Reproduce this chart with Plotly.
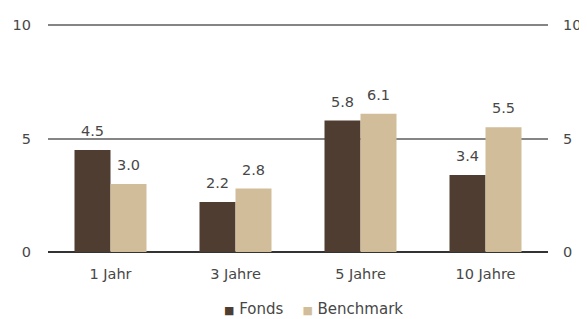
import plotly.graph_objects as go

categories = ["1 Jahr", "3 Jahre", "5 Jahre", "10 Jahre"]
fonds = [4.5, 2.2, 5.8, 3.4]
benchmark = [3.0, 2.8, 6.1, 5.5]
series_names = ["Fonds", "Benchmark"]
tick_vals = [0, 5, 10]

c_fonds = "#4E3D30"
c_bench = "#D1BD99"
txt = "#474747"
fam = "DejaVu Sans"
font = dict(family=fam, size=14.5, color=txt)

fig = go.Figure()
fig.add_trace(go.Bar(x=categories, y=fonds, name=series_names[0], showlegend=False,
                     marker=dict(color=c_fonds, line=dict(width=0))))
fig.add_trace(go.Bar(x=categories, y=benchmark, name=series_names[1], showlegend=False,
                     marker=dict(color=c_bench, line=dict(width=0))))
# invisible trace for the right axis
fig.add_trace(go.Scatter(x=categories, y=fonds, yaxis="y2", mode="markers",
                         marker=dict(opacity=0), showlegend=False, hoverinfo="skip"))

for vals, shift in ((fonds, -18), (benchmark, 18)):
    for c, v in zip(categories, vals):
        fig.add_annotation(x=c, y=v, text=f"{v:.1f}", showarrow=False, xshift=shift,
                           yanchor="bottom", yshift=9, font=dict(family=fam, size=14.5, color=txt))

# legend row (colored square + series name)
legend_text = "&nbsp;&nbsp;&nbsp;&nbsp;".join(
    f"<span style='color:{col}; font-size:11px'>■</span> {name}"
    for col, name in zip((c_fonds, c_bench), series_names))
fig.add_annotation(xref="paper", yref="paper", x=0.53, y=-0.25, xanchor="center", yanchor="middle",
                   text=legend_text, showarrow=False, font=dict(family=fam, size=15, color=txt))

yr = [0, 10.1]
fig.update_layout(
    width=579, height=311,
    margin=dict(l=40, r=39, t=15, b=67, autoexpand=False),
    plot_bgcolor="white", paper_bgcolor="white",
    barmode="group", bargap=0.424, bargroupgap=0,
    font=font,
    xaxis=dict(showgrid=False, ticks="", showline=False, zeroline=False, color=txt,
               tickfont=font, ticklabelstandoff=11, automargin=False),
    yaxis=dict(range=yr, tickvals=tick_vals, showgrid=True, gridcolor="#858585", gridwidth=1.5,
               zeroline=True, zerolinecolor="#333333", zerolinewidth=2, showline=False, color=txt,
               ticks="", ticklabelstandoff=16, tickfont=font, automargin=False),
    yaxis2=dict(range=yr, tickvals=tick_vals, overlaying="y", side="right", showgrid=False,
                zeroline=False, showline=False, ticks="", ticklabelstandoff=14, color=txt,
                tickfont=font, automargin=False),
    showlegend=False,
)

fig.write_html("out.html")
